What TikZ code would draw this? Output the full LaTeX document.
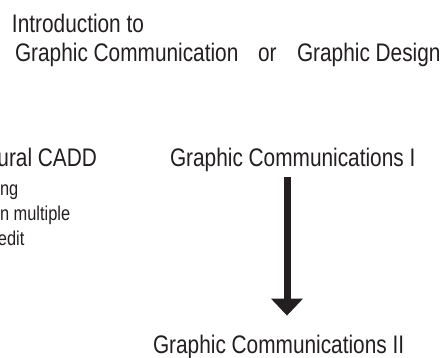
\documentclass[tikz,border=0pt]{standalone}
\usepackage{fontspec}
\setmainfont{Liberation Sans}[FakeStretch=0.82]
\usetikzlibrary{arrows.meta}
\definecolor{ink}{HTML}{231F20}

\begin{document}
\begin{tikzpicture}[x=1pt,y=-1pt,
  every node/.style={inner sep=0pt,outer sep=0pt,text=ink,anchor=base west},
  bigtext/.style={font=\fontsize{25.4}{28}\selectfont},
  smalltext/.style={font=\fontsize{20}{24}\selectfont},
  bigarrow/.style={draw=ink,line width=7pt,-{Triangle[width=31pt,length=17pt]}}]
  \useasboundingbox (0,0) rectangle (444,358);
  % heading
  \node[bigtext] (intro) at (12,33) {Introduction to};
  \node[bigtext] (gcom) at (15,62) {Graphic Communication};
  \node[bigtext] (or) at (258,62) {or};
  \node[bigtext] (gdes) at (297,62) {Graphic Design};
  % left column, cut at the edge
  \node[bigtext,anchor=base east] (cadd) at (97,167) {ural CADD};
  \node[smalltext] (l1) at (0,195) {ng};
  \node[smalltext] (l2) at (0,220) {n multiple};
  \node[smalltext] (l3) at (-2,245) {edit};
  % sequence
  \node[bigtext] (gc1) at (170,167) {Graphic Communications I};
  \node[bigtext] (gc2) at (153,353) {Graphic Communications II};
  \coordinate (top) at (287,177);
  \draw[bigarrow] (top) -- (top |- gc2.north) [shorten >=19pt];
\end{tikzpicture}
\end{document}
